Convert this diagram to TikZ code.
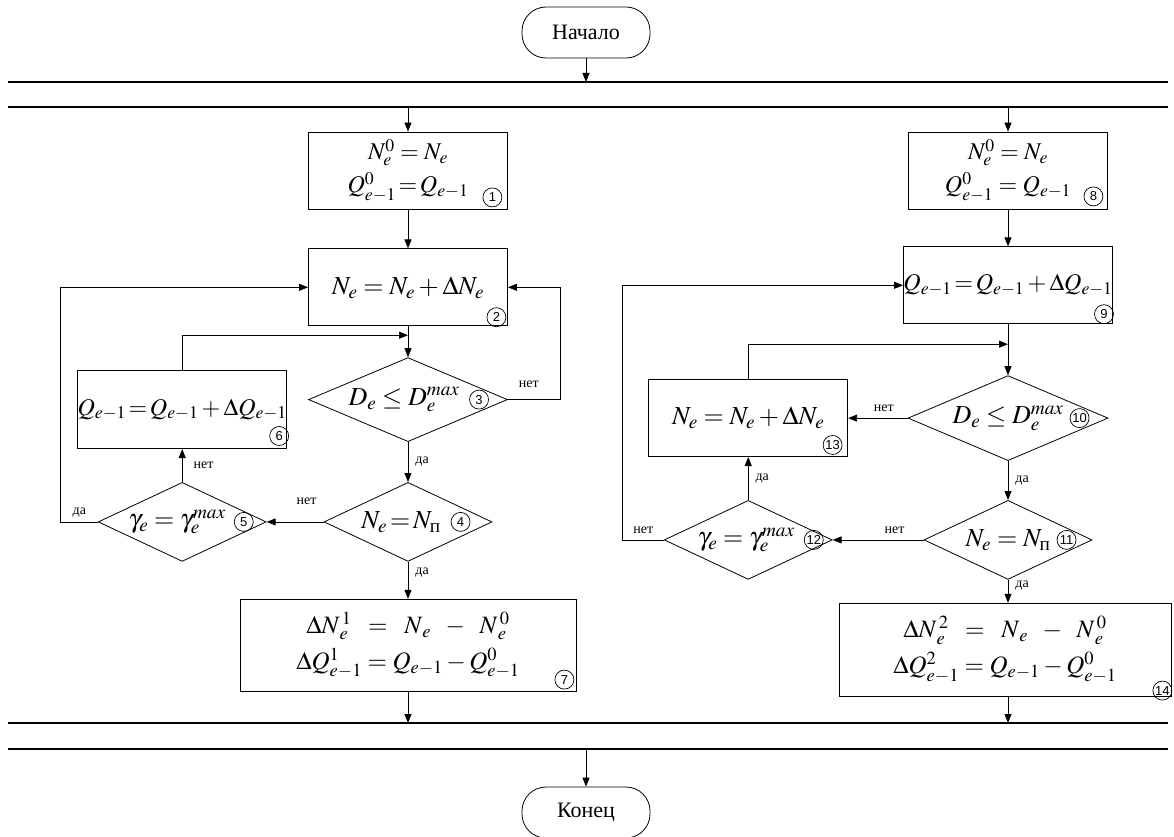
\documentclass[tikz,border=0pt]{standalone}
\usepackage{amsmath}
\usepackage{mathptmx}
\usepackage[no-math]{fontspec}
\setmainfont{Liberation Serif}
\setsansfont{Liberation Sans}
\usepackage{tikz}
\usetikzlibrary{arrows.meta, positioning, shapes.geometric, calc}
\tikzset{%
	term/.style={draw, rectangle, rounded corners=24pt, minimum width=128pt, minimum height=51pt,%
		inner sep=0pt, font=\fontsize{22}{22}\selectfont},
	proc/.style={draw, rectangle, minimum width=199pt, minimum height=77pt, inner sep=0pt,%
		align=center, font=\fontsize{26}{32}\selectfont},
	cond/.style={draw, diamond, minimum width=168pt, minimum height=79pt, inner sep=0pt},
	frm/.style={inner sep=0pt, font=\fontsize{26}{26}\selectfont},
	num/.style={draw, circle, minimum size=19pt, inner sep=0pt, line width=0.7pt,%
		font=\sffamily\fontsize{13}{13}\selectfont},
	lbl/.style={inner sep=1pt, font=\fontsize{14}{14}\selectfont},
	sel/.style={->},
	bus/.style={line width=1.3pt}
}

\begin{document}
\begin{tikzpicture}[x=1pt, y=-1pt, line width=0.8pt, >={Triangle[length=9pt,width=7pt]}]
	\useasboundingbox (0,0) rectangle (1174,837);

	\node[term] (start) at (586,32.5) {Начало};
	\node[term] (stop) at (586,812.5) {Конец};
	\coordinate (busA) at (8,82);
	\coordinate (busB) at (8,107);
	\coordinate (busC) at (8,723);
	\coordinate (busD) at (8,749);
	\foreach \b in {busA, busB, busC, busD}
		\draw[bus] (\b) -- ++(1160,0);

	% left branch
	\node[proc, font=\fontsize{24}{33}\selectfont] (b1) at (408,170.5)
		{$N_e^0=N_e$\\$Q^0_{e-1}\!=\!Q_{e-1}$};
	\node[proc, below=39pt of b1] (b2) {$N_e=N_e+\Delta N_e$};
	\node[cond, minimum width=199pt, minimum height=84pt, below=31pt of b2,%
		label={[frm, xshift=-4pt]center:$D_e\le D_e^{max}$}] (d3) {};
	\node[cond, below=40pt of d3,%
		label={[frm, xshift=-7pt]center:$N_e\!=\!N_{\text{п}}$}] (d4) {};
	\node[cond, left=57pt of d4,%
		label={[frm, xshift=-5pt]center:$\gamma_e=\gamma_e^{max}$}] (d5) {};
	\node[proc, minimum width=198pt, minimum height=78pt, above=33pt of d5,%
		font=\fontsize{24}{24}\selectfont] (b6) {$Q_{e-1}\!=\!Q_{e-1}+\Delta Q_{e-1}$};
	\node[proc, minimum width=336pt, minimum height=92pt, below=37pt of d4, font=\fontsize{25}{36}\selectfont] (b7)
		{$\Delta N_{\,e}^{\,1}\;\;=\;\;N_{\,e}\;\;-\;\;N_{\,e}^{\,0}$\\$\Delta Q^1_{e-1}=Q_{e-1}-Q^0_{e-1}$};

	% right branch
	\node[proc, font=\fontsize{24}{33}\selectfont] (b8) at (1008,170.5)
		{$N_e^0=N_e$\\$Q^0_{e-1}=Q_{e-1}$};
	\node[proc, minimum width=200pt, below=37pt of b8, font=\fontsize{24}{24}\selectfont] (b9)
		{$Q_{e-1}\!=\!Q_{e-1}+\Delta Q_{e-1}$};
	\node[cond, minimum width=200pt, minimum height=85pt, below=51pt of b9,%
		label={[frm]center:$D_e\le D_e^{max}$}] (d10) {};
	\node[cond, below=39pt of d10,%
		label={[frm]center:$N_e=N_{\text{п}}$}] (d11) {};
	\node[cond, left=91pt of d11,%
		label={[frm, xshift=-2pt]center:$\gamma_e=\gamma_e^{max}$}] (d12) {};
	\node[proc, above=43pt of d12] (b13) {$N_e=N_e+\Delta N_e$};
	\node[proc, minimum width=332pt, minimum height=93pt, below=23pt of d11, xshift=-3pt,%
		font=\fontsize{25}{36}\selectfont] (b14)
		{$\Delta N_{\,e}^{\,2}\;\;=\;\;N_{\,e}\;\;-\;\;N_{\,e}^{\,0}$\\$\Delta Q^2_{e-1}=Q_{e-1}-Q^0_{e-1}$};

	% block numbers
	\node[num] at ($(b1.south east)+(-15.5,-12)$) {1};
	\node[num] at ($(b2.south east)+(-11.5,-9)$) {2};
	\node[num, left=19pt of d3.east] {3};
	\node[num, left=22pt of d4.east] {4};
	\node[num, left=13pt of d5.east] {5};
	\node[num] at ($(b6.south east)+(-8,-13)$) {6};
	\node[num] at ($(b7.south east)+(-12,-12)$) {7};
	\node[num] at ($(b8.south east)+(-14.5,-13)$) {8};
	\node[num] at ($(b9.south east)+(-9,-10)$) {9};
	\node[num, left=19pt of d10.east] {10};
	\node[num, left=16pt of d11.east] {11};
	\node[num, left=9pt of d12.east] {12};
	\node[num] at ($(b13.south east)+(-15.5,-12)$) {13};
	\node[num] at ($(b14.south east)+(-9,-6)$) {14};

	% connectors
	\draw[sel] (start) -- (start |- busA);
	\draw[sel] (b1 |- busB) -- (b1);
	\draw[sel] (b8 |- busB) -- (b8);
	\draw[sel] (b1) -- (b2);
	\draw[sel] (b2) -- (d3);
	\draw[sel] (d3) -- node[lbl, right=6pt] {да} (d4);
	\draw[sel] (d4) -- node[lbl, right=6pt, pos=0.3] {да} (b7);
	\draw[sel] (d4) -- node[lbl, above=16pt, pos=0.3] {нет} (d5);
	\draw[sel] (d5) -- node[lbl, right=10pt] {нет} (b6);
	\draw[sel] (d5.west) -- node[lbl, above=3pt] {да} ++(-37,0) |- (b2.west);
	\draw[sel] (d3.east) -- node[lbl, above=11pt, pos=0.4] {нет} ++(52,0) |- (b2.east);
	\coordinate (j3) at ($(b2.south)+(0,9)$);
	\draw[sel] (b6.north) |- (j3);
	\draw[sel] (b7) -- (b7 |- busC);

	\draw[sel] (b8) -- (b9);
	\draw[sel] (b9) -- (d10);
	\draw[sel] (d10) -- node[lbl, above=5pt, pos=0.4] {нет} (b13);
	\draw[sel] (d10) -- node[lbl, right=6pt] {да} (d11);
	\draw[sel] (d11) -- node[lbl, above=5pt, pos=0.32] {нет} (d12);
	\draw[sel] (d12) -- node[lbl, right=6pt] {да} (b13);
	\draw[sel] (d12.west) -- node[lbl, above=5pt] {нет} ++(-41,0) |- (b9.west);
	\coordinate (j10) at ($(b9.south)+(0,20)$);
	\draw[sel] (b13.north) |- (j10);
	\draw[sel] (d11) -- node[lbl, right=6pt, pos=0.25] {да} (d11 |- b14.north);
	\draw[sel] (d11 |- b14.south) -- (d11 |- busC);
	\draw[sel] (stop |- busD) -- (stop);
\end{tikzpicture}
\end{document}
